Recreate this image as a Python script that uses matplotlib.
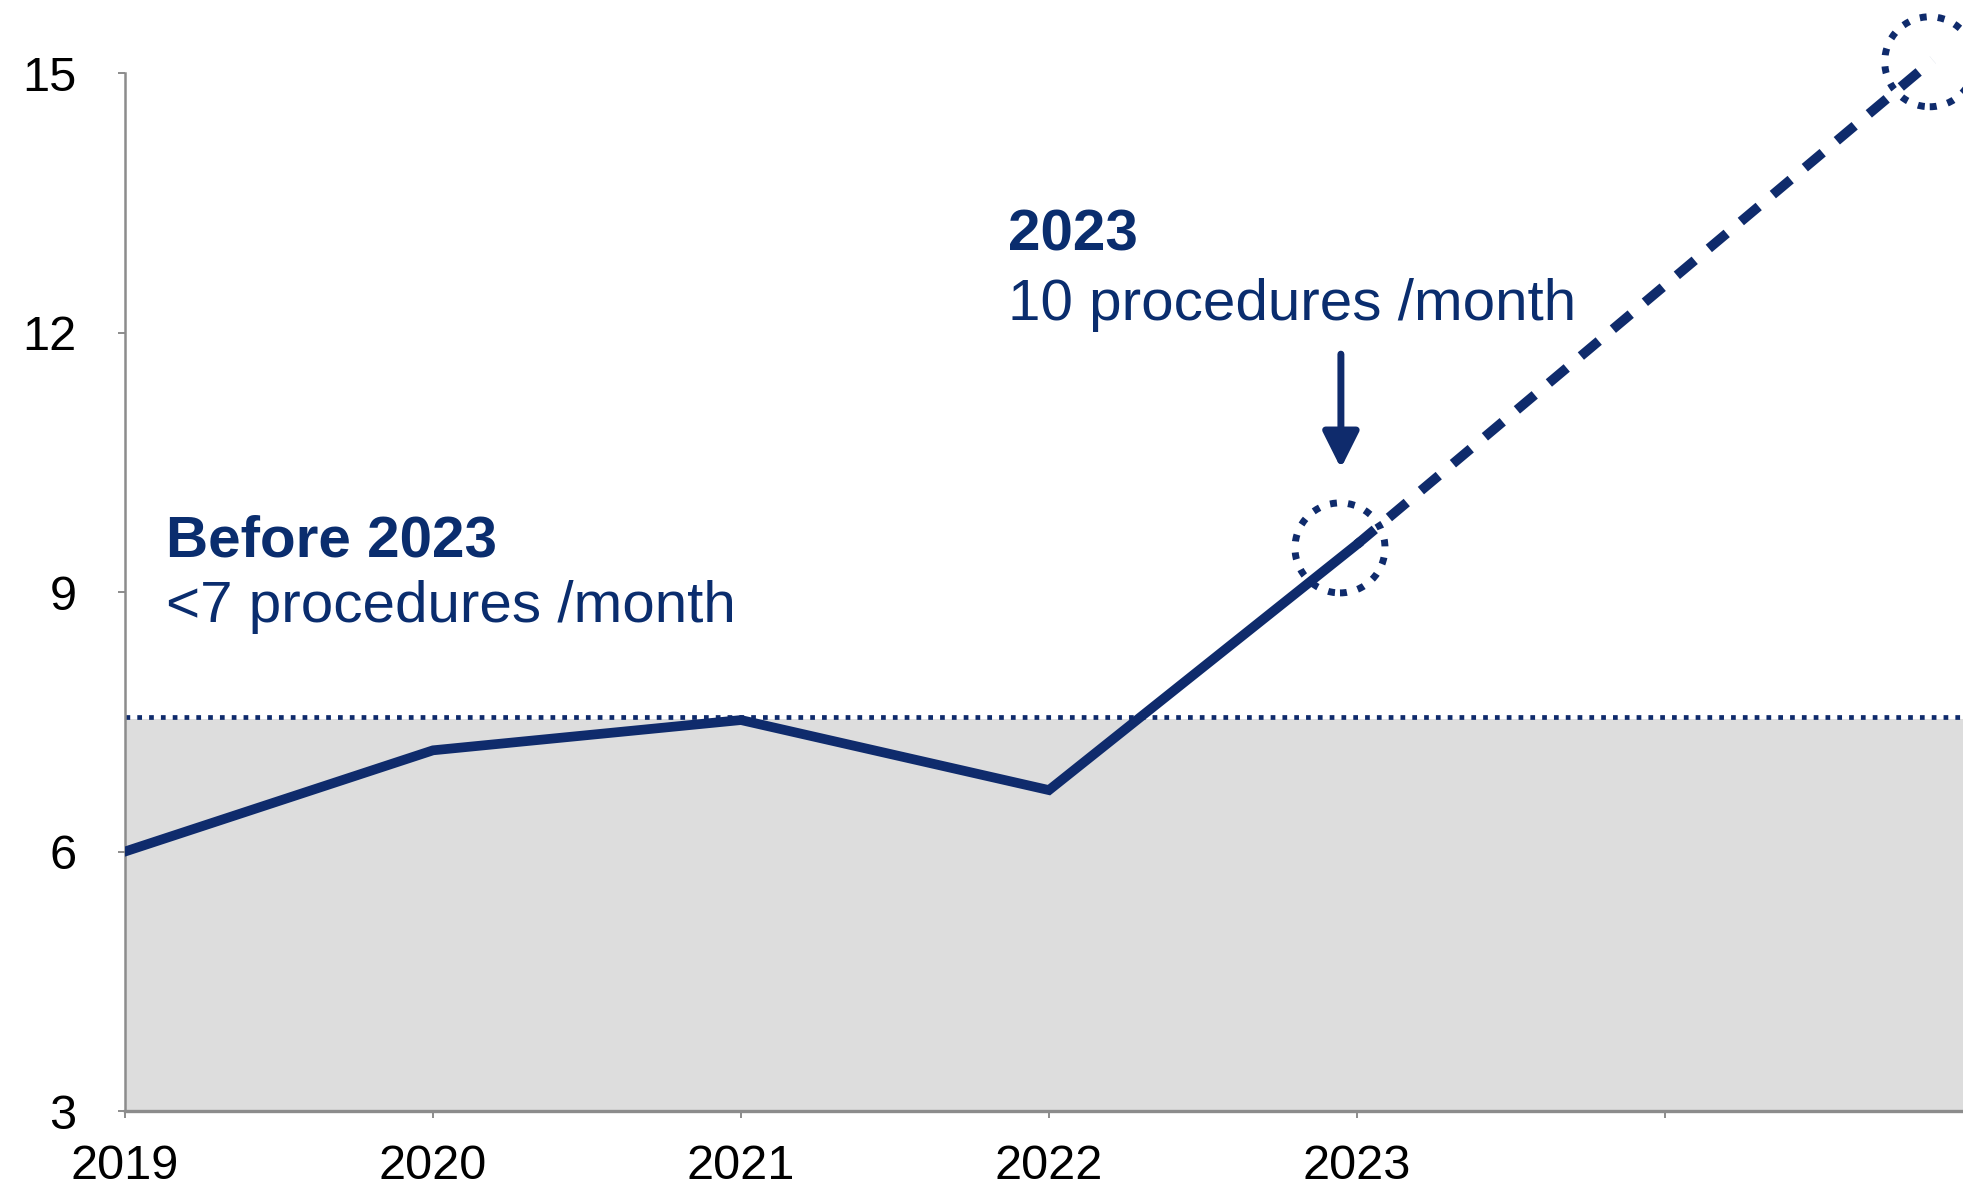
import matplotlib.pyplot as plt

plt.rcParams['font.family'] = ['Liberation Sans', 'DejaVu Sans']

NAVY = "#0f2b6c"
TEXT_NAVY = "#0a2d6e"
GREY_FILL = "#dddddd"
AXIS_GREY = "#8c8c8c"

# data
years = [2019, 2020, 2021, 2022, 2023]
x_pos = [0, 1, 2, 3, 4]
procedures = [6.0, 7.17, 7.52, 6.71, 9.55]
proj_x = [4, 5.87]
proj_y = [9.55, 15.15]
baseline_level = 7.56
tick_labels = ["2019", "2020", "2021", "2022", "2023", ""]
circle_x = [3.945, 5.86]
circle_y = [9.51, 15.13]

fig = plt.figure(figsize=(19.63, 11.87), dpi=100)
ax = fig.add_axes([0.0637, 0.064, 0.9363, 0.8745])

xmax = 5.968
ax.set_xlim(0, xmax)
ax.set_ylim(3, 15)

# grey band below the pre-2023 level
ax.fill_between([0, xmax], 3, baseline_level - 0.03, color=GREY_FILL, lw=0, zorder=1)
ax.axhline(baseline_level, color=NAVY, lw=3.4, ls=(0, (1, 1.5)), zorder=2)

# actual + projected
ax.plot(x_pos, procedures, color=NAVY, lw=7, solid_joinstyle="miter", zorder=3)
ax.plot(proj_x, proj_y, color=NAVY, lw=7, ls=(0, (2.4, 1.9)), dash_capstyle="butt",
        clip_on=False, zorder=3)

# dotted highlight circles
ax.scatter(circle_x, circle_y, s=4200, facecolors="none", edgecolors=NAVY,
           linewidths=5, linestyles=(0, (1, 1.6)), clip_on=False, zorder=4)

# annotations
ax.text(0.133, 9.41, "Before 2023", fontsize=42, fontweight="bold", color=TEXT_NAVY, va="baseline")
ax.text(0.133, 8.65, "<7 procedures /month", fontsize=42, color=TEXT_NAVY, va="baseline")
ax.text(2.867, 12.95, "2023", fontsize=42, fontweight="bold", color=TEXT_NAVY, va="baseline")
ax.text(2.867, 12.15, "10 procedures /month", fontsize=42, color=TEXT_NAVY, va="baseline")
ax.annotate("", xy=(3.948, 10.43), xytext=(3.948, 11.75),
            arrowprops=dict(arrowstyle="-|>,head_length=1.1,head_width=0.55",
                            mutation_scale=20, color=NAVY, lw=5, shrinkA=0, shrinkB=0))

# axes styling
ax.set_xticks(range(6))
ax.set_xticklabels(tick_labels)
ax.set_yticks([3, 6, 9, 12, 15])
ax.tick_params(axis="x", length=5, width=1.4, color=AXIS_GREY, pad=19, labelsize=35)
ax.tick_params(axis="y", length=5, width=1.4, color=AXIS_GREY, pad=30, labelsize=35)
for s in ["top", "right"]:
    ax.spines[s].set_visible(False)
ax.spines["left"].set_color(AXIS_GREY)
ax.spines["left"].set_linewidth(1.8)
ax.spines["bottom"].set_color(AXIS_GREY)
ax.spines["bottom"].set_linewidth(2.4)
ax.spines["bottom"].set_zorder(5)

fig.savefig("out.png", dpi=100)
plt.close(fig)
